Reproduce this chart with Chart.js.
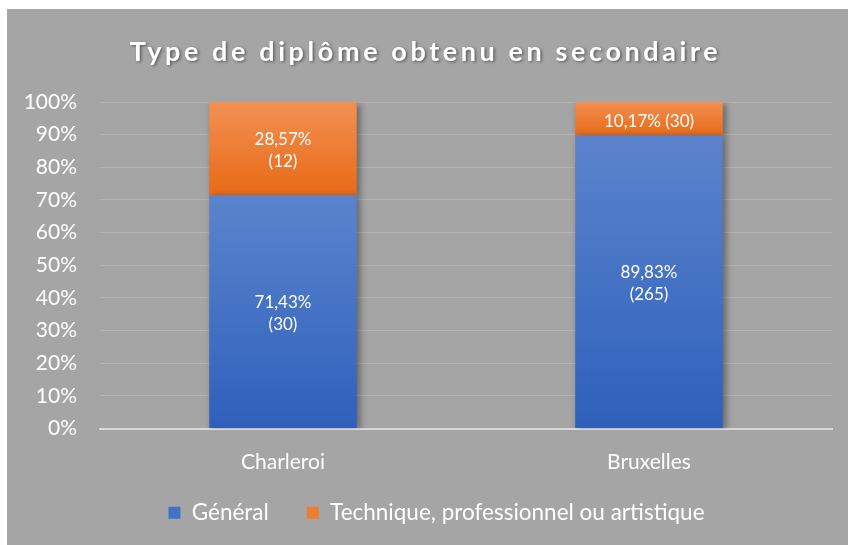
<!DOCTYPE html>
<html>
<head>
<meta charset="utf-8">
<script src="https://cdn.jsdelivr.net/npm/chart.js@4.4.1/dist/chart.umd.min.js"></script>
<style>
    body { margin: 0; background: #ffffff; }
    #box { position: absolute; left: 7px; top: 9px; width: 841px; height: 536px; background: #a5a5a5; }
</style>
</head>
<body>
<div id="box"><canvas id="diplomeChart" width="841" height="536"></canvas></div>
<script>
const chartTitle = 'Type de diplôme obtenu en secondaire';
const villes = ['Charleroi', 'Bruxelles'];
const seriesNames = ['Général', 'Technique, professionnel ou artistique'];
const generalPct = [71.43, 89.83];
const techniquePct = [28.57, 10.17];
const generalCount = [30, 265];
const techniqueCount = [12, 30];
const yTicks = [0, 10, 20, 30, 40, 50, 60, 70, 80, 90, 100];

const FONT = 'Lato, "Open Sans", sans-serif';

function barGradient(top, bottom) {
    return function (c) {
        if (c.type !== 'data') return top;
        const chart = c.chart;
        const y = chart.scales.y;
        if (!y) return top;
        let base = 0;
        for (let i = 0; i < c.datasetIndex; i++) {
            base += chart.data.datasets[i].data[c.dataIndex];
        }
        const y0 = y.getPixelForValue(base + c.raw);
        const y1 = y.getPixelForValue(base);
        if (!isFinite(y0) || !isFinite(y1)) return top;
        const g = chart.ctx.createLinearGradient(0, y0, 0, y1);
        g.addColorStop(0, top);
        g.addColorStop(1, bottom);
        return g;
    };
}

const counts = [generalCount, techniqueCount];

// shadow under the bars + labels inside segments + title
const barDecor = {
    id: 'barDecor',
    afterLayout(chart) {
        // nudge the legend row closer to the axis labels
        const lg = chart.legend;
        lg.top -= 11;
        lg.bottom -= 11;
        lg.left += 17;
        lg.right += 17;
    },
    beforeDatasetsDraw(chart) {
        const ctx = chart.ctx;
        ctx.save();
        ctx.shadowColor = 'rgba(0,0,0,0.4)';
        ctx.shadowBlur = 7;
        ctx.shadowOffsetX = 3;
        ctx.shadowOffsetY = 2;
    },
    afterDatasetsDraw(chart) {
        const ctx = chart.ctx;
        ctx.restore();
        ctx.save();
        ctx.fillStyle = '#ffffff';
        ctx.font = '17px ' + FONT;
        ctx.textAlign = 'center';
        ctx.textBaseline = 'middle';
        chart.data.datasets.forEach((ds, di) => {
            chart.getDatasetMeta(di).data.forEach((bar, i) => {
                const p = bar.getProps(['x', 'y', 'base'], true);
                const cy = (p.y + p.base) / 2;
                const pct = ds.data[i].toFixed(2).replace('.', ',') + '%';
                const n = '(' + counts[di][i] + ')';
                if (Math.abs(p.base - p.y) < 45) {
                    ctx.fillText(pct + ' ' + n, p.x, cy + 3);
                } else {
                    ctx.fillText(pct, p.x, cy - 9.5);
                    ctx.fillText(n, p.x, cy + 13);
                }
            });
        });
        ctx.restore();
    },
    afterDraw(chart) {
        const ctx = chart.ctx;
        ctx.save();
        ctx.font = 'bold 27px ' + FONT;
        ctx.letterSpacing = '3.6px';
        ctx.textAlign = 'center';
        ctx.textBaseline = 'middle';
        ctx.shadowColor = 'rgba(0,0,0,0.45)';
        ctx.shadowBlur = 3;
        ctx.shadowOffsetX = 1.5;
        ctx.shadowOffsetY = 1.5;
        ctx.fillStyle = '#ffffff';
        ctx.fillText(chartTitle, chart.width / 2 - 2, 43);
        ctx.restore();
    }
};

new Chart(document.getElementById('diplomeChart'), {
    type: 'bar',
    data: {
        labels: villes,
        datasets: [
            {
                label: seriesNames[0],
                data: generalPct,
                backgroundColor: barGradient('#5b84cc', '#2e60bb'),
                borderWidth: 0
            },
            {
                label: seriesNames[1],
                data: techniquePct,
                backgroundColor: barGradient('#f39053', '#e86a17'),
                borderWidth: 0
            }
        ]
    },
    options: {
        responsive: false,
        animation: false,
        categoryPercentage: 1,
        barPercentage: 0.403,
        layout: { padding: { top: 93, right: 16, bottom: 0, left: 0 } },
        plugins: {
            title: { display: false },
            tooltip: { enabled: false },
            legend: {
                position: 'bottom',
                labels: {
                    color: '#ffffff',
                    font: { family: FONT, size: 22.5 },
                    boxWidth: 12,
                    boxHeight: 12,
                    padding: 38,
                    generateLabels(chart) {
                        const solid = ['#4472c4', '#ed7d31'];
                        return chart.data.datasets.map((ds, i) => ({
                            text: ds.label,
                            fillStyle: solid[i],
                            strokeStyle: solid[i],
                            lineWidth: 0,
                            fontColor: '#ffffff',
                            datasetIndex: i
                        }));
                    }
                }
            }
        },
        scales: {
            x: {
                stacked: true,
                grid: { display: false, drawTicks: false },
                border: { display: true, color: '#d9d9d9', width: 2 },
                ticks: { color: '#ffffff', font: { family: FONT, size: 21 }, padding: 21 },
                afterFit(scale) { scale.height = 46; }
            },
            y: {
                stacked: true,
                min: 0,
                max: 100,
                afterBuildTicks(scale) { scale.ticks = yTicks.map(v => ({ value: v })); },
                grid: { color: '#b3b3b3', lineWidth: 1, drawTicks: false },
                border: { display: false },
                ticks: {
                    color: '#ffffff',
                    font: { family: FONT, size: 21 },
                    padding: 23,
                    callback: v => v + '%'
                },
                afterFit(scale) { scale.width = 93; }
            }
        }
    },
    plugins: [barDecor]
});
</script>
</body>
</html>
